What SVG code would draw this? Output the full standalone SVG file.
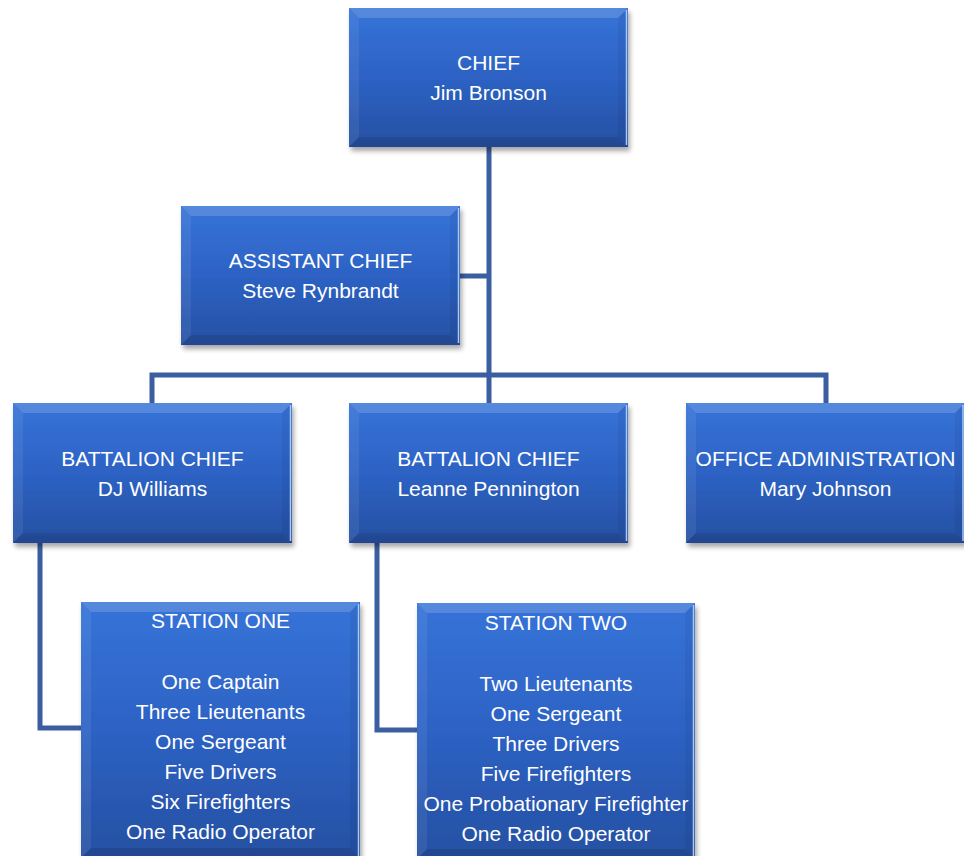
<svg xmlns="http://www.w3.org/2000/svg" width="964" height="856" viewBox="0 0 964 856">
<defs>
<linearGradient id="fill" x1="0" y1="0" x2="0" y2="1">
<stop offset="0" stop-color="#3673d8"/>
<stop offset="0.5" stop-color="#2d62c4"/>
<stop offset="1" stop-color="#2550a2"/>
</linearGradient>
<filter id="shadow" x="-10%" y="-10%" width="125%" height="125%">
<feGaussianBlur in="SourceAlpha" stdDeviation="2.5"/>
<feOffset dx="2" dy="4" result="b"/>
<feComponentTransfer><feFuncA type="linear" slope="0.35"/></feComponentTransfer>
<feMerge><feMergeNode/><feMergeNode in="SourceGraphic"/></feMerge>
</filter>
<style>
.box{fill:url(#fill);filter:url(#shadow)}
.bt{fill:#ffffff;fill-opacity:0.16}
.bl{fill:#ffffff;fill-opacity:0.07}
.br{fill:#000000;fill-opacity:0.05}
.bb{fill:#000000;fill-opacity:0.10}
.hl{stroke:#a9c8f2;stroke-width:1.5;fill:none}
.t{font-family:"Liberation Sans",Arial,sans-serif;font-size:21px;fill:#ffffff;text-anchor:middle}
.con{fill:none;stroke:#3a5e9f;stroke-width:5;stroke-linejoin:miter}
</style>
</defs>
<rect width="964" height="856" fill="#ffffff"/>
<g id="connectors">
<path class="con" d="M489,147 V403"/>
<path class="con" d="M460,276 H489"/>
<path class="con" d="M152,405 V375 H826 V405"/>
<path class="con" d="M40,543 V728 H83"/>
<path class="con" d="M377,543 V730 H419"/>
</g>
<g id="chief">
<rect class="box" x="349" y="8" width="279" height="139"/>
<polygon class="bt" points="349,8 628,8 618,18 359,18"/>
<polygon class="bl" points="349,8 359,18 359,137 349,147"/>
<polygon class="br" points="628,8 628,147 618,137 618,18"/>
<polygon class="bb" points="349,147 628,147 618,137 359,137"/>
<line class="hl" x1="626.5" y1="10" x2="626.5" y2="145"/>
<text class="t" x="488.5" y="70">CHIEF</text>
<text class="t" x="488.5" y="100">Jim Bronson</text>
</g>
<g id="assistant">
<rect class="box" x="181" y="206" width="279" height="139"/>
<polygon class="bt" points="181,206 460,206 450,216 191,216"/>
<polygon class="bl" points="181,206 191,216 191,335 181,345"/>
<polygon class="br" points="460,206 460,345 450,335 450,216"/>
<polygon class="bb" points="181,345 460,345 450,335 191,335"/>
<line class="hl" x1="458.5" y1="208" x2="458.5" y2="343"/>
<text class="t" x="320.5" y="268">ASSISTANT CHIEF</text>
<text class="t" x="320.5" y="298">Steve Rynbrandt</text>
</g>
<g id="battalion1">
<rect class="box" x="13" y="403" width="279" height="140"/>
<polygon class="bt" points="13,403 292,403 282,413 23,413"/>
<polygon class="bl" points="13,403 23,413 23,533 13,543"/>
<polygon class="br" points="292,403 292,543 282,533 282,413"/>
<polygon class="bb" points="13,543 292,543 282,533 23,533"/>
<line class="hl" x1="290.5" y1="405" x2="290.5" y2="541"/>
<text class="t" x="152.5" y="466">BATTALION CHIEF</text>
<text class="t" x="152.5" y="496">DJ Williams</text>
</g>
<g id="battalion2">
<rect class="box" x="349" y="403" width="279" height="140"/>
<polygon class="bt" points="349,403 628,403 618,413 359,413"/>
<polygon class="bl" points="349,403 359,413 359,533 349,543"/>
<polygon class="br" points="628,403 628,543 618,533 618,413"/>
<polygon class="bb" points="349,543 628,543 618,533 359,533"/>
<line class="hl" x1="626.5" y1="405" x2="626.5" y2="541"/>
<text class="t" x="488.5" y="466">BATTALION CHIEF</text>
<text class="t" x="488.5" y="496">Leanne Pennington</text>
</g>
<g id="office">
<rect class="box" x="686" y="403" width="279" height="140"/>
<polygon class="bt" points="686,403 965,403 955,413 696,413"/>
<polygon class="bl" points="686,403 696,413 696,533 686,543"/>
<polygon class="br" points="965,403 965,543 955,533 955,413"/>
<polygon class="bb" points="686,543 965,543 955,533 696,533"/>
<line class="hl" x1="963" y1="405" x2="963" y2="541"/>
<text class="t" x="825.5" y="466">OFFICE ADMINISTRATION</text>
<text class="t" x="825.5" y="496">Mary Johnson</text>
</g>
<g id="station1">
<rect class="box" x="81" y="602" width="279" height="256"/>
<polygon class="bt" points="81,602 360,602 350,612 91,612"/>
<polygon class="bl" points="81,602 91,612 91,848 81,858"/>
<polygon class="br" points="360,602 360,858 350,848 350,612"/>
<polygon class="bb" points="81,858 360,858 350,848 91,848"/>
<line class="hl" x1="358.5" y1="604" x2="358.5" y2="856"/>
<text class="t" x="220.5" y="628">STATION ONE</text>
<text class="t" x="220.5" y="689">One Captain</text>
<text class="t" x="220.5" y="719">Three Lieutenants</text>
<text class="t" x="220.5" y="749">One Sergeant</text>
<text class="t" x="220.5" y="779">Five Drivers</text>
<text class="t" x="220.5" y="809">Six Firefighters</text>
<text class="t" x="220.5" y="839">One Radio Operator</text>
</g>
<g id="station2">
<rect class="box" x="417" y="603" width="278" height="256"/>
<polygon class="bt" points="417,603 695,603 685,613 427,613"/>
<polygon class="bl" points="417,603 427,613 427,849 417,859"/>
<polygon class="br" points="695,603 695,859 685,849 685,613"/>
<polygon class="bb" points="417,859 695,859 685,849 427,849"/>
<line class="hl" x1="693.5" y1="605" x2="693.5" y2="857"/>
<text class="t" x="556" y="630">STATION TWO</text>
<text class="t" x="556" y="691">Two Lieutenants</text>
<text class="t" x="556" y="721">One Sergeant</text>
<text class="t" x="556" y="751">Three Drivers</text>
<text class="t" x="556" y="781">Five Firefighters</text>
<text class="t" x="556" y="811">One Probationary Firefighter</text>
<text class="t" x="556" y="841">One Radio Operator</text>
</g>
</svg>
